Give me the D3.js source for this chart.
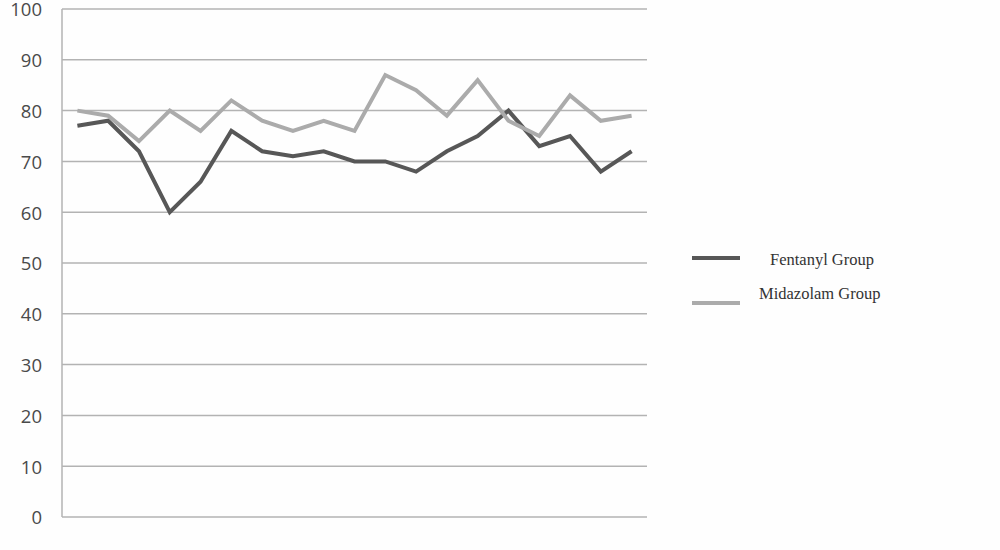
<!DOCTYPE html>
<html><head><meta charset="utf-8">
<script src="https://cdn.jsdelivr.net/npm/d3@7"></script>
<style>body{margin:0;background:#fff}svg{display:block}</style>
</head><body><svg id="c" width="1000" height="550"></svg>
<script>
const categories = d3.range(1, 20).map(String);
const fentanyl = [77,78,72,60,66,76,72,71,72,70,70,68,72,75,80,73,75,68,72];
const midazolam = [80,79,74,80,76,82,78,76,78,76,87,84,79,86,78,75,83,78,79];
const yTicks = [0,10,20,30,40,50,60,70,80,90,100];
const seriesNames = ["Fentanyl Group", "Midazolam Group"];
const seriesColors = ["#575757", "#ababab"];

const svg = d3.select("#c");
svg.append("rect").attr("width",1000).attr("height",550).attr("fill","#fefefe");
const x = d3.scalePoint().domain(categories).range([62, 647]).padding(0.5);
const y = d3.scaleLinear().domain([0,100]).range([517, 9]);

svg.append("g").selectAll("line").data(yTicks).join("line")
  .attr("x1",62).attr("x2",647)
  .attr("y1",d=>y(d)).attr("y2",d=>y(d))
  .attr("stroke","#b3b3b3").attr("stroke-width",1.5);
svg.append("line").attr("x1",62).attr("x2",62).attr("y1",y(100)).attr("y2",y(0))
  .attr("stroke","#b3b3b3").attr("stroke-width",1.5);
svg.append("g").selectAll("text").data(yTicks).join("text")
  .attr("x",42).attr("y",d=>y(d)+1).attr("dy","0.35em")
  .attr("text-anchor","end")
  .attr("font-family","Open Sans, Noto Sans, sans-serif")
  .attr("font-size",18.5).attr("fill","#4a4a4a")
  .text(d=>d);

const line = d3.line().x((d,i)=>x(categories[i])).y(d=>y(d));
[fentanyl, midazolam].forEach((s,k)=>{
  svg.append("path").datum(s).attr("d",line)
    .attr("fill","none").attr("stroke",seriesColors[k])
    .attr("stroke-width",4).attr("stroke-linejoin","miter");
});

const legLineY = [258, 303];
const legTextX = [770, 759];
const legTextY = [259, 293];
seriesNames.forEach((n,k)=>{
  svg.append("line").attr("x1",692).attr("x2",740)
    .attr("y1",legLineY[k]).attr("y2",legLineY[k])
    .attr("stroke",seriesColors[k]).attr("stroke-width",4);
  svg.append("text").attr("x",legTextX[k]).attr("y",legTextY[k]).attr("dy","0.35em")
    .attr("font-family","Liberation Serif, Times New Roman, serif")
    .attr("font-size",16.5).attr("fill","#333").text(n);
});
</script></body></html>
